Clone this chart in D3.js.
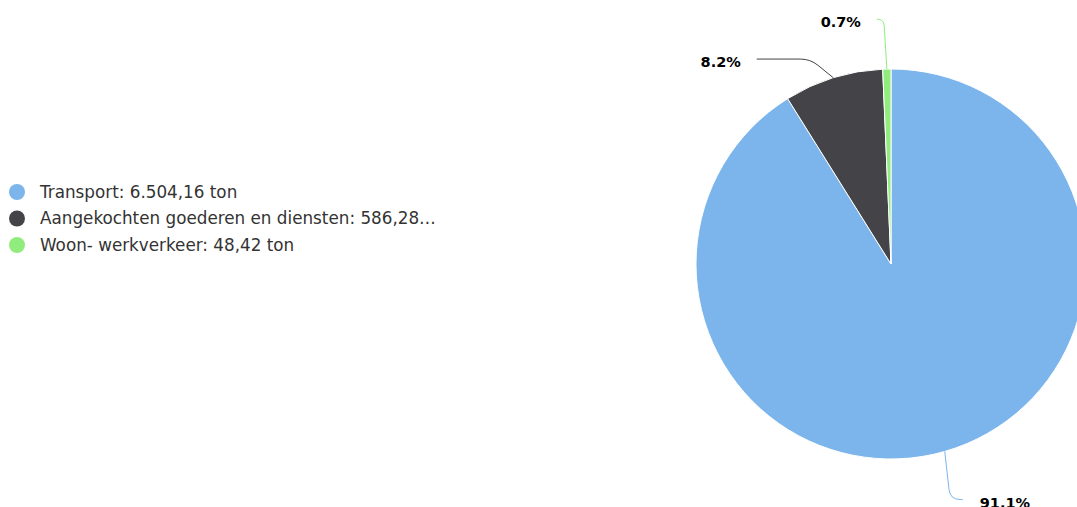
<!DOCTYPE html>
<html>
<head>
<meta charset="utf-8">
<script src="https://cdn.jsdelivr.net/npm/d3@7"></script>
<style>
  body { margin: 0; background: #fff; }
  svg { display: block; font-family: "DejaVu Sans", sans-serif; }
</style>
</head>
<body>
<div id="chart"></div>
<script>
// data
const categories = ['Transport', 'Aangekochten goederen en diensten', 'Woon- werkverkeer'];
const values = [6504.16, 586.28, 48.42];
const colors = ['#7cb5ec', '#434348', '#90ed7d'];

const width = 1077, height = 507;
const cx = 891, cy = 264, radius = 195;
const labelDistance = 50;

const fmtNL = d3.formatLocale({decimal: ',', thousands: '.', grouping: [3], currency: ['', '']}).format(',.2f');
const total = d3.sum(values);

const svg = d3.select('#chart').append('svg')
    .attr('width', width)
    .attr('height', height);

// legend
const legend = svg.append('g').attr('transform', 'translate(17,192)');
const items = legend.selectAll('g.item')
    .data(categories)
    .join('g')
    .classed('item', true)
    .attr('transform', (d, i) => `translate(0,${i * 26.5})`);
items.append('circle')
    .attr('r', 8)
    .attr('fill', (d, i) => colors[i]);
items.append('text')
    .attr('x', 23)
    .attr('dy', '0.35em')
    .attr('font-size', 16.8)
    .attr('fill', '#333')
    .text((d, i) => `${d}: ${fmtNL(values[i])} ton`)
    .each(function () {
        // truncate long labels like the original
        const el = d3.select(this);
        const maxW = 402;
        let t = el.text();
        while (t.length > 0 && this.getComputedTextLength() > maxW) {
            t = t.slice(0, -1);
            el.text(t.trimEnd() + '…');
        }
    });

// pie
const pie = d3.pie().sort(null).value(d => d);
const arcs = pie(values);
const arc = d3.arc().innerRadius(0).outerRadius(radius);

const g = svg.append('g').attr('transform', `translate(${cx},${cy})`);
g.selectAll('path.slice')
    .data(arcs)
    .join('path')
    .classed('slice', true)
    .attr('d', arc)
    .attr('fill', (d, i) => colors[i])
    .attr('stroke', '#fff')
    .attr('stroke-width', 1);

// data labels
const R = radius + labelDistance;
const labels = arcs.map((a, i) => {
    const mid = (a.startAngle + a.endAngle) / 2;
    return {
        i,
        pct: (values[i] / total * 100).toFixed(1) + '%',
        left: Math.sin(mid) < 0,
        ex: Math.sin(mid) * radius,
        ey: -Math.cos(mid) * radius,
        y: -Math.cos(mid) * R
    };
});
// spread labels on each side
[true, false].forEach(side => {
    const s = labels.filter(l => l.left === side).sort((a, b) => a.y - b.y);
    for (let k = 1; k < s.length; k++) {
        if (s[k].y - s[k - 1].y < 40) s[k].y = s[k - 1].y + 40;
    }
});
labels.forEach(l => {
    const dy = Math.max(-R, Math.min(R, l.y));
    l.x = (l.left ? -1 : 1) * Math.sqrt(R * R - dy * dy);
    if (l.left && l.x > l.ex - 10) l.x = l.ex - 10;
    if (!l.left && l.x < l.ex + 18) l.x = l.ex + 18;
});

function connector(l) {
    const crookX = l.x + (l.ex - l.x) * 0.7;
    const sm = Math.min(10, Math.abs(crookX - l.x));
    const dir = Math.sign(crookX - l.x) || 1;
    const len = Math.hypot(l.ex - crookX, l.ey - l.y) || 1;
    const ux = (l.ex - crookX) / len, uy = (l.ey - l.y) / len;
    return `M${l.x},${l.y}L${crookX - dir * sm},${l.y}` +
        `Q${crookX},${l.y} ${crookX + ux * sm},${l.y + uy * sm}` +
        `L${l.ex},${l.ey}`;
}

g.selectAll('path.connector')
    .data(labels)
    .join('path')
    .classed('connector', true)
    .attr('d', connector)
    .attr('fill', 'none')
    .attr('stroke', d => colors[d.i])
    .attr('stroke-width', 1);

g.selectAll('text.dl')
    .data(labels)
    .join('text')
    .classed('dl', true)
    .attr('x', d => d.left ? d.x - 16 : d.x + 17)
    .attr('y', d => d.y + 3)
    .attr('dy', '0.35em')
    .attr('text-anchor', d => d.left ? 'end' : 'start')
    .attr('font-size', 14.5)
    .attr('font-weight', 'bold')
    .attr('fill', '#000')
    .attr('stroke', '#fff')
    .attr('stroke-width', 2)
    .attr('paint-order', 'stroke')
    .text(d => d.pct);
</script>
</body>
</html>
